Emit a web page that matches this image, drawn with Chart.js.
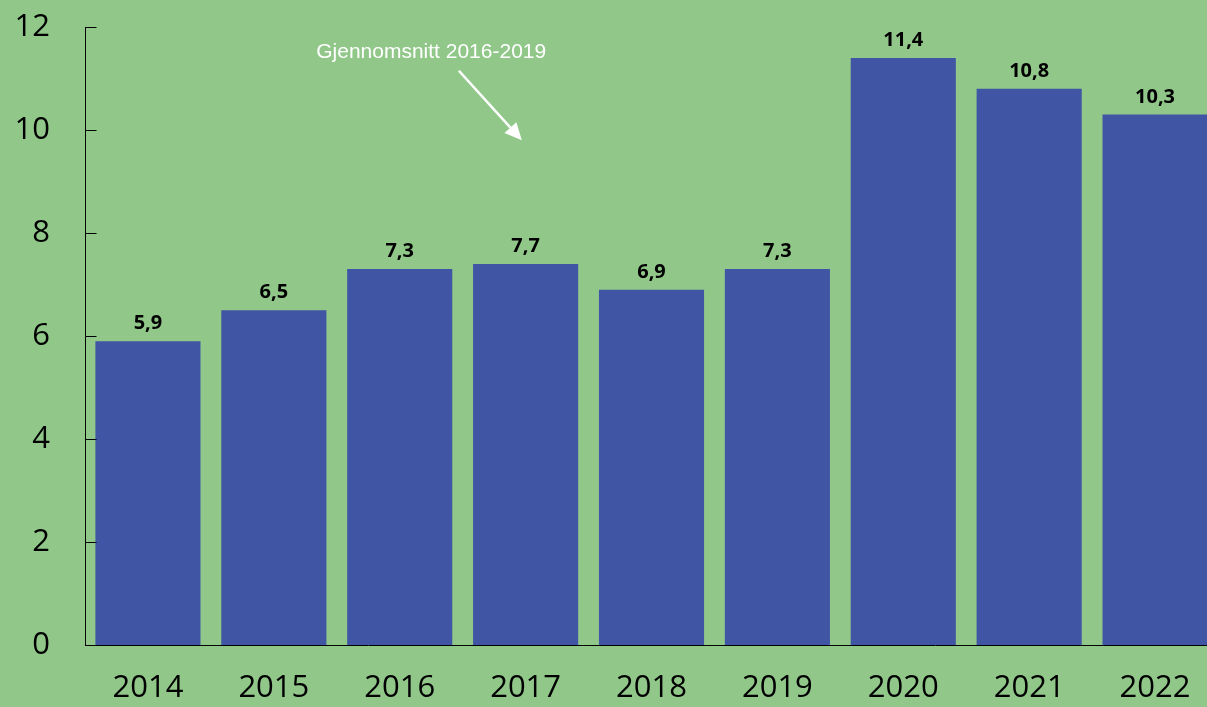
<!DOCTYPE html>
<html>
<head>
<meta charset="utf-8">
<script src="https://cdn.jsdelivr.net/npm/chart.js@4"></script>
<style>
  html, body { margin: 0; padding: 0; overflow: hidden; background: #91C88A; }
  #wrap { width: 1218px; height: 707px; position: relative; }
</style>
</head>
<body>
<div id="wrap"><canvas id="c"></canvas></div>
<script>
const categories = ['2014','2015','2016','2017','2018','2019','2020','2021','2022'];
const values = [5.9, 6.5, 7.3, 7.4, 6.9, 7.3, 11.4, 10.8, 10.3];
const valueLabels = ['5,9','6,5','7,3','7,7','6,9','7,3','11,4','10,8','10,3'];
const yTicks = [0, 2, 4, 6, 8, 10, 12];
const noteText = 'Gjennomsnitt 2016-2019';
// annotation anchors in data space: [category index, value]
const noteAnchor = [2.25, 11.52];
const arrowFrom = [2.47, 11.15];
const arrowTo = [2.97, 9.8];

const bg = '#91C88A';
const barColor = '#4155A5';

const extras = {
  id: 'extras',
  beforeDraw(chart) {
    const ctx = chart.ctx;
    ctx.save();
    ctx.fillStyle = bg;
    ctx.fillRect(0, 0, chart.width, chart.height);
    ctx.restore();
  },
  afterDatasetsDraw(chart) {
    const ctx = chart.ctx;
    const xs = chart.scales.x, ys = chart.scales.y;
    const meta = chart.getDatasetMeta(0);
    ctx.save();
    // value labels
    ctx.fillStyle = '#000';
    ctx.font = 'bold 20px "Open Sans"';
    ctx.textAlign = 'center';
    ctx.textBaseline = 'alphabetic';
    meta.data.forEach((bar, i) => {
      ctx.fillText(valueLabels[i], bar.x, bar.y - 12);
    });
    // inward y ticks
    ctx.strokeStyle = '#000';
    ctx.lineWidth = 1;
    const ax = Math.round(xs.left) + 0.5;
    yTicks.forEach(v => {
      const py = Math.round(ys.getPixelForValue(v)) + 0.5;
      ctx.beginPath();
      ctx.moveTo(ax, py);
      ctx.lineTo(ax + 11, py);
      ctx.stroke();
    });
    // annotation
    ctx.fillStyle = '#fff';
    ctx.font = '21px "Liberation Sans", Arial, sans-serif';
    ctx.textAlign = 'center';
    ctx.textBaseline = 'middle';
    ctx.fillText(noteText, xs.getPixelForValue(noteAnchor[0]), ys.getPixelForValue(noteAnchor[1]));
    const x1 = xs.getPixelForValue(arrowFrom[0]), y1 = ys.getPixelForValue(arrowFrom[1]);
    const x2 = xs.getPixelForValue(arrowTo[0]), y2 = ys.getPixelForValue(arrowTo[1]);
    const ang = Math.atan2(y2 - y1, x2 - x1);
    const hl = 17, hw = 8;
    const bx = x2 - hl * Math.cos(ang), by = y2 - hl * Math.sin(ang);
    ctx.strokeStyle = '#fff';
    ctx.lineWidth = 2.5;
    ctx.beginPath();
    ctx.moveTo(x1, y1);
    ctx.lineTo(bx, by);
    ctx.stroke();
    ctx.beginPath();
    ctx.moveTo(x2, y2);
    ctx.lineTo(bx + hw * Math.sin(ang), by - hw * Math.cos(ang));
    ctx.lineTo(bx - hw * Math.sin(ang), by + hw * Math.cos(ang));
    ctx.closePath();
    ctx.fill();
    ctx.restore();
  }
};

new Chart(document.getElementById('c'), {
  type: 'bar',
  data: {
    labels: categories,
    datasets: [{
      data: values,
      backgroundColor: barColor,
      borderWidth: 0,
      categoryPercentage: 1,
      barPercentage: 0.835
    }]
  },
  options: {
    responsive: true,
    maintainAspectRatio: false,
    animation: false,
    devicePixelRatio: 1,
    layout: { padding: { top: 27, right: 0, left: 0, bottom: 0 } },
    plugins: { legend: { display: false }, tooltip: { enabled: false } },
    scales: {
      x: {
        grid: { display: false, drawTicks: false },
        border: { display: true, color: '#000', width: 1 },
        ticks: { color: '#000', font: { family: 'Open Sans', size: 31 }, padding: 25, maxRotation: 0 },
        afterFit(s) { s.height = 62; s.paddingLeft = 0; s.paddingRight = 0; }
      },
      y: {
        min: 0, max: 12,
        afterBuildTicks(s) { s.ticks = yTicks.map(v => ({ value: v })); },
        grid: { display: false, drawTicks: false },
        border: { display: true, color: '#000', width: 1 },
        ticks: { color: '#000', font: { family: 'Open Sans', size: 31 }, padding: 35 },
        afterFit(s) { s.width = 85; s.paddingTop = 0; s.paddingBottom = 0; }
      }
    }
  },
  plugins: [extras]
});
</script>
</body>
</html>
